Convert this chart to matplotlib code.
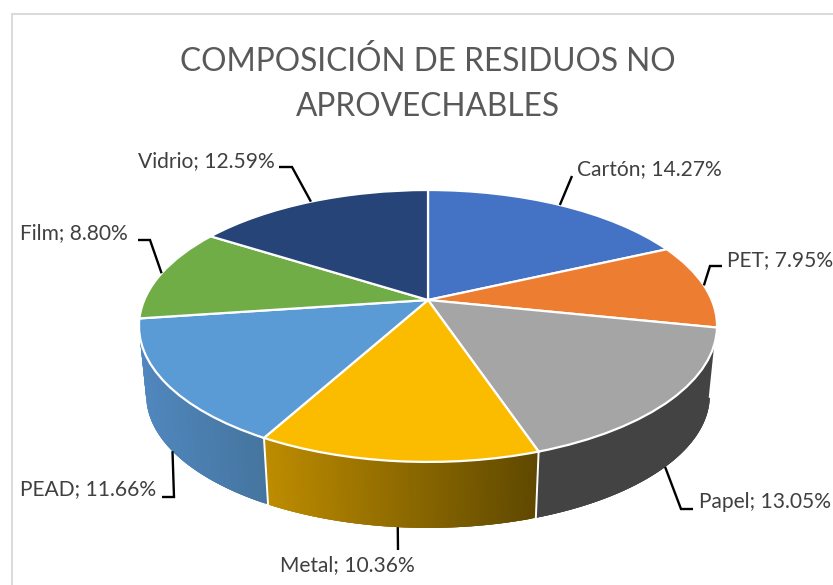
import numpy as np
import matplotlib
matplotlib.use("Agg")
import matplotlib.pyplot as plt
from matplotlib.collections import PolyCollection
from matplotlib.colors import to_rgb
from matplotlib.transforms import Transform

categories = ["Cartón", "PET", "Papel", "Metal", "PEAD", "Film", "Vidrio"]
values = [14.27, 7.95, 13.05, 10.36, 11.66, 8.80, 12.59]
top_colors = ["#4472C4", "#ED7D31", "#A5A5A5", "#FBBC00", "#5B9BD5", "#70AD47", "#264478"]
side_left = ["#2F5597", "#8C4A1D", "#434343", "#BE8C00", "#5087BE", "#4F7A32", "#1A2F55"]
side_right = ["#2F5597", "#8C4A1D", "#434343", "#5F4800", "#45759F", "#4F7A32", "#1A2F55"]
title = "COMPOSICIÓN DE RESIDUOS NO\nAPROVECHABLES"

PX, PY = 428.0, 300.0       # pivot of the pie in pixels
A, B, K = 283.7, 131.0, 0.191
DEPTH, SHRINK = 70.0, 0.975


def project(u, v, shrink=1.0, drop=0.0):
    w = 1 + K * v
    return PX + shrink * A * u / w, PY - shrink * B * v / w + drop


class Tilt(Transform):
    input_dims = 2
    output_dims = 2
    is_separable = False
    has_inverse = False

    def transform_non_affine(self, values):
        values = np.asarray(values, dtype=float)
        x, y = project(values[:, 0], values[:, 1])
        return np.column_stack([x, y])


plt.rcParams["font.family"] = ["Lato", "DejaVu Sans"]
fig = plt.figure(figsize=(8.33, 5.85), dpi=100, facecolor="white")
ax = fig.add_axes([0, 0, 1, 1])

wedges, _ = ax.pie(values, colors=top_colors, startangle=90, counterclock=False,
                   radius=1, center=(0, 0),
                   wedgeprops=dict(edgecolor="white", linewidth=1.6))
ax.set_aspect("auto")
ax.set_xlim(0, 833)
ax.set_ylim(585, 0)
ax.axis("off")

tilt = Tilt() + ax.transData
for w in wedges:
    w.set_transform(tilt)
    w.set_zorder(3)

# clockwise angle from 12 o'clock for each slice boundary
edges = np.concatenate([[0], np.cumsum(values)]) / np.sum(values) * 2 * np.pi
vis0 = np.arccos(-K)             # right silhouette of the tilted disc
vis1 = 2 * np.pi - vis0          # left silhouette


def rim(t, shrink=1.0, drop=0.0):
    return project(np.sin(t), np.cos(t), shrink, drop)


# side wall: overlapping strips so that no seams show between them
for i in range(len(values)):
    a0, a1 = max(edges[i], vis0), min(edges[i + 1], vis1)
    if a1 <= a0:
        continue
    ts = np.linspace(a0, a1, 80)
    xt, yt = rim(ts)
    xb, yb = rim(ts, SHRINK, DEPTH)
    xa, xz = rim(edges[i + 1])[0], rim(edges[i])[0]
    cl, cr = np.array(to_rgb(side_left[i])), np.array(to_rgb(side_right[i]))
    polys, cols = [], []
    for j in range(len(ts) - 1):
        k = min(j + 3, len(ts) - 1)
        polys.append(list(zip(xt[j:k + 1], yt[j:k + 1])) +
                     list(zip(xb[j:k + 1][::-1], yb[j:k + 1][::-1])))
        f = np.clip(((xt[j] + xt[j + 1]) / 2 - xa) / max(xz - xa, 1e-6), 0, 1)
        cols.append(cl + (cr - cl) * f)
    ax.add_collection(PolyCollection(polys, facecolors=cols, edgecolors="none",
                                     zorder=1))

# white seams on the side wall
for t in edges[1:-1]:
    if vis0 < t < vis1:
        x0, y0 = rim(t)
        x1, y1 = rim(t, SHRINK, DEPTH)
        ax.plot([x0, x1], [y0, y1], color="white", lw=1.4, zorder=2)

# data labels and leader lines
mids = (edges[:-1] + edges[1:]) / 2
on_side = [False, False, True, True, True, False, False]
elbows = [
    [(572, 176)],
    [(710, 266), (722, 266)],
    [(681, 509), (693, 509)],
    [(398, 550)],
    [(174, 497), (162, 497)],
    [(150, 240), (138, 240)],
    [(292, 167), (279, 167)],
]
label_pos = [
    (577, 169, "left"), (727, 260, "left"), (699, 502, "left"), (347, 565, "center"),
    (20, 489, "left"), (20, 233, "left"), (275, 161, "right"),
]
for name, val, m, side, elbow, (lx, ly, ha) in zip(categories, values, mids, on_side,
                                                   elbows, label_pos):
    x0, y0 = rim(m, SHRINK, DEPTH) if side else rim(m)
    pts = [(x0, y0)] + elbow
    ax.plot(*zip(*pts), color="black", lw=1.7, zorder=4,
            solid_joinstyle="miter", solid_capstyle="butt")
    ax.text(lx, ly, f"{name}; {val:.2f}%", fontsize=15.1, color="#404040",
            ha=ha, va="center", zorder=5)

ax.text(428, 84, title, fontsize=22.8, color="#595959", ha="center", va="center",
        linespacing=1.63)

# chart-area border
ax.plot([833, 12, 12], [14, 14, 585], color="#D9D9D9", lw=1.4, zorder=0,
        solid_joinstyle="miter")

fig.savefig("out.png", dpi=100)
